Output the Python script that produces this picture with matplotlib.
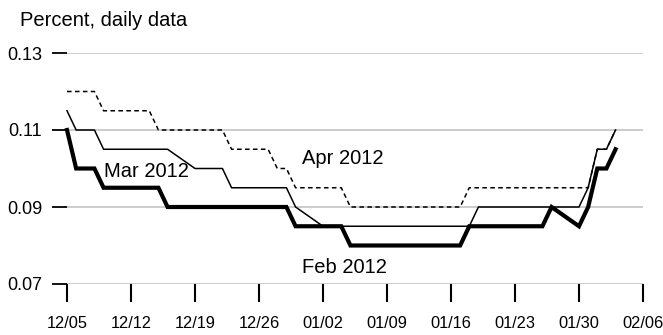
import datetime as dt
import matplotlib
matplotlib.use("Agg")
import matplotlib.pyplot as plt
import matplotlib.dates as mdates

plt.rcParams['font.family'] = ['Liberation Sans', 'DejaVu Sans']

# business days, 12/05/2011 - 02/03/2012
dates = ['2011-12-05', '2011-12-06', '2011-12-07', '2011-12-08', '2011-12-09',
         '2011-12-12', '2011-12-13', '2011-12-14', '2011-12-15', '2011-12-16',
         '2011-12-19', '2011-12-20', '2011-12-21', '2011-12-22', '2011-12-23',
         '2011-12-26', '2011-12-27', '2011-12-28', '2011-12-29', '2011-12-30',
         '2012-01-02', '2012-01-03', '2012-01-04', '2012-01-05', '2012-01-06',
         '2012-01-09', '2012-01-10', '2012-01-11', '2012-01-12', '2012-01-13',
         '2012-01-16', '2012-01-17', '2012-01-18', '2012-01-19', '2012-01-20',
         '2012-01-23', '2012-01-24', '2012-01-25', '2012-01-26', '2012-01-27',
         '2012-01-30', '2012-01-31', '2012-02-01', '2012-02-02', '2012-02-03']

feb_2012 = [0.110, 0.100, 0.100, 0.100, 0.095,
            0.095, 0.095, 0.095, 0.095, 0.090,
            0.090, 0.090, 0.090, 0.090, 0.090,
            0.090, 0.090, 0.090, 0.090, 0.085,
            0.085, 0.085, 0.085, 0.080, 0.080,
            0.080, 0.080, 0.080, 0.080, 0.080,
            0.080, 0.080, 0.085, 0.085, 0.085,
            0.085, 0.085, 0.085, 0.085, 0.090,
            0.085, 0.090, 0.100, 0.100, 0.105]

mar_2012 = [0.115, 0.110, 0.110, 0.110, 0.105,
            0.105, 0.105, 0.105, 0.105, 0.105,
            0.100, 0.100, 0.100, 0.100, 0.095,
            0.095, 0.095, 0.095, 0.095, 0.090,
            0.085, 0.085, 0.085, 0.085, 0.085,
            0.085, 0.085, 0.085, 0.085, 0.085,
            0.085, 0.085, 0.085, 0.090, 0.090,
            0.090, 0.090, 0.090, 0.090, 0.090,
            0.090, 0.095, 0.105, 0.105, 0.110]

apr_2012 = [0.120, 0.120, 0.120, 0.120, 0.115,
            0.115, 0.115, 0.115, 0.110, 0.110,
            0.110, 0.110, 0.110, 0.110, 0.105,
            0.105, 0.105, 0.100, 0.100, 0.095,
            0.095, 0.095, 0.095, 0.090, 0.090,
            0.090, 0.090, 0.090, 0.090, 0.090,
            0.090, 0.090, 0.095, 0.095, 0.095,
            0.095, 0.095, 0.095, 0.095, 0.095,
            0.095, 0.095, 0.105, 0.105, 0.110]

xticks = ['2011-12-05', '2011-12-12', '2011-12-19', '2011-12-26', '2012-01-02',
          '2012-01-09', '2012-01-16', '2012-01-23', '2012-01-30', '2012-02-06']
yticks = [0.07, 0.09, 0.11, 0.13]

x = [dt.datetime.strptime(d, '%Y-%m-%d') for d in dates]
xt = [dt.datetime.strptime(d, '%Y-%m-%d') for d in xticks]

fig = plt.figure(figsize=(6.63, 3.35), dpi=100)
W, H = 663, 335
ax = fig.add_axes([67 / W, (H - 284) / H, (643 - 67) / W, (284 - 53) / H])

ax.plot(x, apr_2012, color='black', lw=1.1, ls=(0, (3, 2.2)), clip_on=False)
ax.plot(x, mar_2012, color='black', lw=1.1, clip_on=False)
ax.plot(x, feb_2012, color='black', lw=3.0, clip_on=False, solid_joinstyle='miter')

ax.set_xlim(xt[0], xt[-1])
ax.set_ylim(0.07, 0.13)
ax.set_yticks(yticks)
ax.set_yticklabels(['%.2f' % v for v in yticks])
ax.set_xticks(xt)
ax.xaxis.set_major_formatter(mdates.DateFormatter('%m/%d'))

for s in ax.spines.values():
    s.set_visible(False)
ax.yaxis.grid(True, color='#c4c4c4', lw=1.2)
ax.set_axisbelow(True)
ax.tick_params(axis='y', length=11, width=1.3, pad=7, labelsize=13)
ax.tick_params(axis='x', length=13, width=1.5, pad=10, labelsize=11.8)

d0 = mdates.date2num(xt[0])
ax.text(d0 + 25.7, 0.1027, 'Apr 2012', fontsize=14.5, va='center', ha='left')
ax.text(d0 + 4.0, 0.0991, 'Mar 2012', fontsize=14.5, va='center', ha='left')
ax.text(d0 + 25.7, 0.0744, 'Feb 2012', fontsize=14.5, va='center', ha='left')

fig.text(20 / W, 1 - 20 / H, 'Percent, daily data', fontsize=14.5, va='center', ha='left')

fig.savefig('out.png', dpi=100)
